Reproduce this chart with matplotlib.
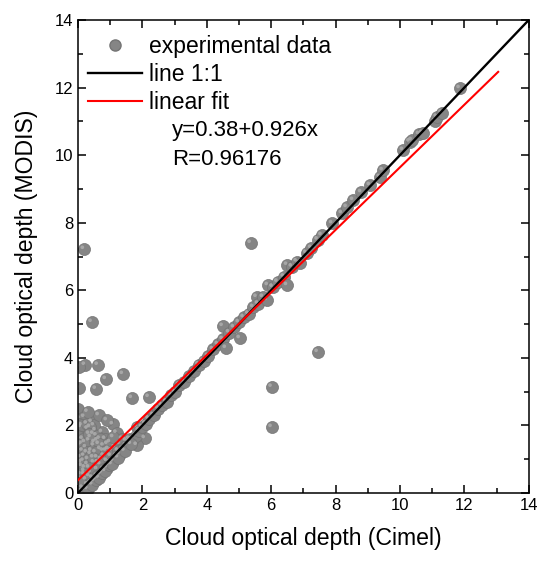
import matplotlib
matplotlib.use("Agg")
import matplotlib.pyplot as plt
from matplotlib.lines import Line2D
from matplotlib.transforms import offset_copy
import numpy as np

plt.rcParams['font.family'] = ['Liberation Sans', 'DejaVu Sans']

# Cimel (x) vs MODIS (y) cloud optical depth
cimel = [
    # lower-left cluster
    0.0, 0.05, 0.2, 0.43, 0.1, 0.3, 0.55, 0.75, 1.09, 1.2, 0.0, 0.15, 0.4, 0.6, 0.85, 1.0,
    0.05, 0.25, 0.5, 0.7, 0.95, 1.15, 0.0, 0.2, 0.4, 0.6, 0.8, 1.3, 0.1, 0.3, 0.5, 0.7,
    0.9, 0.0, 0.2, 0.4, 0.6, 0.05, 0.25, 0.45, 0.0, 0.15, 0.3, 0.1, 0.35, 0.8, 1.83, 2.08,
    1.83, 1.5, 1.6, 0.5, 0.65, 0.3,
    0.02, 0.12, 0.28, 0.38, 0.48, 0.58, 0.68, 0.02, 0.12, 0.22, 0.35, 0.52, 0.65, 0.78, 0.92,
    1.05, 0.02, 0.15, 0.28, 0.42, 0.55, 0.72, 0.88, 1.02, 0.08, 0.18, 0.32, 0.48, 0.62, 0.02,
    0.12, 0.22, 0.35, 0.08, 0.2, 0.02, 1.25, 1.38, 1.1, 0.35, 0.9,
    # band along the diagonal
    0.2, 0.4, 0.5, 0.6, 0.7, 0.8, 0.9, 1.0, 1.1, 1.2, 1.3, 1.4, 1.5, 1.6, 1.7, 1.8, 1.9, 2.0, 2.1,
    0.3, 0.45, 0.55, 0.65, 0.75, 0.85, 0.95, 1.05, 1.25, 1.45, 1.65,
    2.2, 2.35, 2.5, 2.6, 2.75, 2.9, 3.0, 3.15, 3.3, 3.45, 3.6, 3.75, 3.9, 4.05, 4.2, 4.35, 4.5,
    4.6, 4.5, 5.03, 4.7, 4.85, 5.0, 5.15, 5.3, 5.45, 5.55, 5.6, 5.75, 5.87, 5.9, 6.05, 6.2,
    6.4, 6.5, 6.5, 6.65, 6.8, 6.9, 7.1, 7.25, 7.45, 7.57, 7.9, 8.2, 8.35, 8.55, 8.8, 9.07,
    9.38, 9.47, 10.1, 10.3, 10.37, 10.6, 10.7, 11.1, 11.15, 11.3, 11.86,
    # outliers
    0.19, 0.43, 0.22, 0.62, 0.87, 1.4, 0.56, 0.03, 1.68, 2.2, 0.03, 5.37, 7.45, 6.02, 6.02,
]
modis = [
    2.5, 2.2, 2.25, 2.1, 1.95, 1.9, 1.85, 1.8, 2.03, 1.78, 1.7, 1.6, 1.65, 1.55, 1.6, 1.5,
    1.4, 1.35, 1.4, 1.3, 1.3, 1.35, 1.15, 1.1, 1.15, 1.05, 1.1, 1.45, 0.9, 0.85, 0.9, 0.85,
    0.95, 0.7, 0.65, 0.6, 0.7, 0.45, 0.4, 0.45, 0.2, 0.15, 0.25, 0.05, 0.5, 1.4, 1.96, 1.62,
    1.42, 1.55, 1.6, 2.0, 2.3, 2.4,
    2.05, 2.0, 2.05, 1.95, 1.75, 1.7, 1.6, 1.5, 1.45, 1.5, 1.55, 1.5, 1.45, 1.25, 1.45,
    1.25, 1.3, 1.25, 1.2, 1.25, 1.2, 1.0, 1.25, 1.1, 1.05, 0.95, 1.0, 1.05, 0.9, 0.9,
    0.8, 0.75, 0.75, 0.55, 0.55, 0.35, 1.25, 1.6, 1.65, 1.75, 2.15,
    0.1, 0.3, 0.35, 0.5, 0.55, 0.7, 0.75, 0.9, 0.95, 1.1, 1.15, 1.3, 1.4, 1.5, 1.6, 1.7, 1.85, 1.95, 2.05,
    0.12, 0.25, 0.4, 0.45, 0.6, 0.65, 0.82, 0.85, 1.05, 1.25, 1.45,
    2.2, 2.3, 2.5, 2.6, 2.7, 2.9, 3.0, 3.2, 3.3, 3.45, 3.6, 3.8, 3.9, 4.05, 4.25, 4.4, 4.55,
    4.29, 4.94, 4.58, 4.75, 4.9, 5.05, 5.2, 5.3, 5.5, 5.8, 5.6, 5.8, 5.71, 6.15, 6.1, 6.25,
    6.4, 6.15, 6.75, 6.7, 6.85, 6.8, 7.1, 7.25, 7.5, 7.63, 7.98, 8.28, 8.46, 8.67, 8.9, 9.11,
    9.35, 9.55, 10.15, 10.4, 10.44, 10.62, 10.65, 11.0, 11.13, 11.25, 11.98,
    7.22, 5.06, 3.79, 3.79, 3.37, 3.52, 3.08, 3.1, 2.81, 2.84, 3.73, 7.4, 4.17, 3.14, 1.95,
]

fit_intercept = 0.38
fit_slope = 0.926
fit_r = 0.96176
fit_xmax = 13.05
axis_max = 14

fig = plt.figure(figsize=(5.39, 5.63), dpi=100)
ax = fig.add_axes([0.1447, 0.1243, 0.8363, 0.8402])

# gray "spheres": base disc plus a faint lighter highlight shifted up-left
ax.scatter(cimel, modis, s=75, color='#858585', edgecolors='#747474', linewidths=0.5, zorder=2)
hl = offset_copy(ax.transData, fig=fig, x=-1.8, y=1.8, units='dots')
ax.scatter(cimel, modis, s=7, color='#b0b0b0', edgecolors='none', alpha=0.8,
           transform=hl, zorder=2.1)

ax.plot([0, axis_max], [0, axis_max], color='black', lw=1.7, zorder=3)
xf = np.array([0, fit_xmax])
ax.plot(xf, fit_intercept + fit_slope * xf, color='red', lw=1.5, zorder=3)

ax.set_xlim(0, axis_max)
ax.set_ylim(0, axis_max)
ax.set_xticks(range(0, 15, 2))
ax.set_yticks(range(0, 15, 2))
ax.set_xticks(range(1, 14, 2), minor=True)
ax.set_yticks(range(1, 14, 2), minor=True)
ax.tick_params(which='both', direction='in', top=True, right=True, width=1.1, labelsize=12)
ax.tick_params(which='major', length=6)
ax.tick_params(which='minor', length=3.5)
for sp in ax.spines.values():
    sp.set_linewidth(1.1)

ax.set_xlabel('Cloud optical depth (Cimel)', fontsize=16.6, labelpad=10)
ax.set_ylabel('Cloud optical depth (MODIS)', fontsize=16.6, labelpad=12)

handles = [
    Line2D([], [], ls='none', marker='o', ms=8, color='#858585', markeredgecolor='#747474'),
    Line2D([], [], color='black', lw=1.7),
    Line2D([], [], color='red', lw=1.5),
]
ax.legend(handles, ['experimental data', 'line 1:1', 'linear fit'], loc='upper left',
          bbox_to_anchor=(0.022, 0.968), frameon=False, fontsize=16.5, handlelength=2.35,
          handletextpad=0.3, labelspacing=0.22, borderpad=0, borderaxespad=0)
ax.text(0.208, 0.767, f'y={fit_intercept}+{fit_slope}x', transform=ax.transAxes,
        fontsize=16, va='center')
ax.text(0.208, 0.706, f'R={fit_r}', transform=ax.transAxes, fontsize=16, va='center')

fig.savefig('out.png', dpi=100)
